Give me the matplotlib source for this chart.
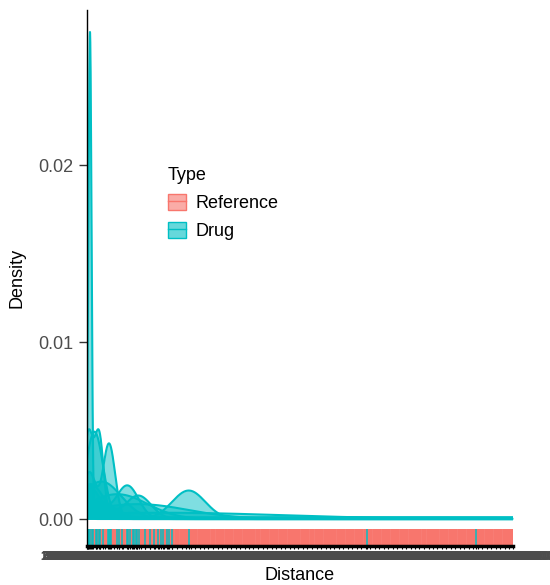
import numpy as np
import matplotlib.pyplot as plt
from matplotlib.colors import to_rgba
from matplotlib.patches import Patch
from matplotlib.lines import Line2D
from matplotlib.legend_handler import HandlerTuple

plt.rcParams['font.family'] = ['Liberation Sans', 'DejaVu Sans']

RED = '#F8766D'
TEAL = '#00BFC4'
GREY = '#4D4D4D'

# drug distances, one list per group, with the kernel bandwidth for each group
drug_groups = [
    [28],
    [59, 82],
    [113, 12],
    [200, 207, 214, 44, 0],
    [373, 383, 5, 15],
    [472, 491, 12, 28, 59],
    [955, 955, 955, 955, 955, 82, 97, 147],
    [122, 147],
    [223, 285, 303, 326],
    [404, 429, 441, 460, 545, 592],
    [632, 670, 691, 716, 748, 773, 795],
    [2626],
    [3653],
]
drug_bw = [14.5, 80, 42, 56, 105, 120, 155, 188, 282, 470, 1127, 4000, 4500]

# reference distances (only shown in the rug)
reference_dist = [
    3, 41, 88, 126, 170, 214, 251, 297, 338, 384, 421, 466, 509, 548, 593,
    636, 677, 719, 764, 802, 847, 889, 930, 975, 1013, 1058, 1101, 1139,
    1184, 1226, 1268, 1311, 1350, 1396, 1437, 1479, 1522, 1563, 1607, 1648,
    1690, 1733, 1772, 1818, 1859, 1902, 1944, 1985, 2029, 2070, 2113, 2155,
    2196, 2240, 2281, 2323, 2366, 2407, 2450, 2492, 2534, 2577, 2618, 2661,
    2702, 2744, 2787, 2828, 2871, 2912, 2954, 2997, 3038, 3081, 3122, 3164,
    3207, 3248, 3291, 3332, 3374, 3417, 3458, 3501, 3542, 3584, 3627, 3668,
    3711, 3752, 3794, 3837, 3878, 3921, 3962, 3998,
]

xmax = 4000
grid = np.linspace(0, xmax, 4001)


def kde(obs, bw):
    obs = np.asarray(obs, float)
    z = (grid[:, None] - obs[None, :]) / bw
    return np.exp(-0.5 * z ** 2).sum(axis=1) / (len(obs) * bw * np.sqrt(2 * np.pi))


fig = plt.figure(figsize=(5.5, 5.85), dpi=100)
ax = fig.add_axes([87 / 550, 1 - 546 / 585, 426 / 550, 536 / 585])

for obs, bw in zip(drug_groups, drug_bw):
    d = kde(obs, bw)
    ax.fill_between(grid, 0, d, color=TEAL, alpha=0.5, lw=0)
    ax.plot(grid, d, color=TEAL, lw=1.5)

# rug strip under the densities
rug_lo, rug_hi = -0.00147, -0.000565
drug_all = sorted(set(v for g in drug_groups for v in g))
ax.vlines(reference_dist, rug_lo, rug_hi, color=RED, lw=4)
ax.vlines(drug_all, rug_lo, rug_hi, color=TEAL, lw=1.2, alpha=0.9)

ax.set_xlim(0, xmax)
ax.set_ylim(-0.001525, 0.028757)

ticks = sorted(set(reference_dist) | set(drug_all))
ax.set_xticks(ticks)
ax.set_xticklabels([f'{v:.12f}' for v in ticks], fontsize=8.5, color=GREY,
                   fontweight='bold')
ax.tick_params(axis='x', length=2, width=0.8, pad=1.5)

ax.set_yticks([0, 0.01, 0.02])
ax.set_yticklabels(['0.00', '0.01', '0.02'], fontsize=13, color=GREY)
ax.tick_params(axis='y', length=6, width=1, pad=4, colors='#333333')
for lab in ax.get_yticklabels():
    lab.set_color(GREY)

for s in ['top', 'right']:
    ax.spines[s].set_visible(False)
ax.spines['bottom'].set_linewidth(2.5)
ax.spines['left'].set_linewidth(1)

fig.text(17 / 550, 1 - 278 / 585, 'Density', rotation=90, ha='center', va='center', fontsize=13)
fig.text(300 / 550, 1 - 575 / 585, 'Distance', ha='center', va='center', fontsize=13)

handles = [
    (Patch(facecolor=to_rgba(RED, 0.6), edgecolor=RED, lw=1), Line2D([0], [0], color=RED, lw=1)),
    (Patch(facecolor=to_rgba(TEAL, 0.6), edgecolor=TEAL, lw=1), Line2D([0], [0], color=TEAL, lw=1)),
]
fig.legend(handles, ['Reference', 'Drug'], title='Type', loc='upper left',
           bbox_to_anchor=(168 / 550, 1 - 167 / 585), frameon=False, fontsize=13,
           title_fontsize=13, handlelength=1.0, handleheight=1.0, handletextpad=0.5,
           labelspacing=0.55, borderpad=0, borderaxespad=0, alignment='left',
           handler_map={tuple: HandlerTuple(ndivide=1, pad=0)})

fig.savefig('out.png', dpi=100)
